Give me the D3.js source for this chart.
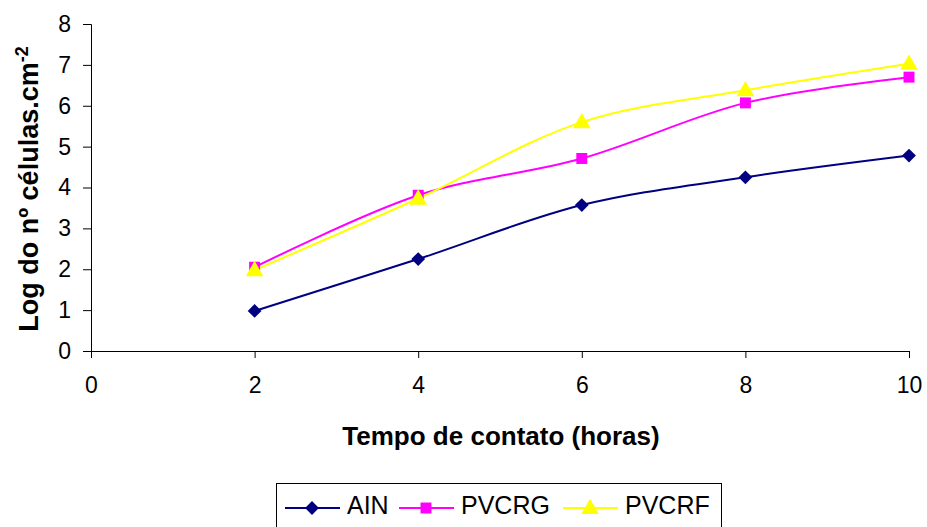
<!DOCTYPE html>
<html>
<head>
<meta charset="utf-8">
<script src="https://cdn.jsdelivr.net/npm/d3@7"></script>
<style>
  html, body { margin: 0; padding: 0; background: #fff; }
  svg { display: block; font-family: "Liberation Sans", Arial, sans-serif; }
</style>
</head>
<body>
<svg id="chart" width="927" height="527"></svg>
<script>
// Contact time (hours)
const hours = [2, 4, 6, 8, 10];
// Log of cell count per cm² for each surface
const ain    = [0.98, 2.25, 3.57, 4.25, 4.78];
const pvcrg  = [2.05, 3.81, 4.71, 6.07, 6.70];
const pvcrf  = [1.98, 3.73, 5.60, 6.38, 7.03];
const xTicks = [0, 2, 4, 6, 8, 10];
const yTicks = [0, 1, 2, 3, 4, 5, 6, 7, 8];

const seriesNames  = ["AIN", "PVCRG", "PVCRF"];
const seriesValues = [ain, pvcrg, pvcrf];
const seriesColors = ["#000080", "#FF00FF", "#FFFF00"];

// Marker shapes: square diamond, square, triangle
const diamondSym = {
  draw(ctx, size) {
    const r = Math.sqrt(size / 2);
    ctx.moveTo(0, -r); ctx.lineTo(r, 0); ctx.lineTo(0, r); ctx.lineTo(-r, 0); ctx.closePath();
  }
};
const seriesShapes = [diamondSym, d3.symbolSquare, d3.symbolTriangle];
const symbolSizes = [95, 120, 135];

const svg = d3.select("#chart");
const plotL = 91, plotR = 909, plotT = 24, plotB = 351;

const x = d3.scaleLinear().domain([0, 10]).range([plotL, plotR]);
const y = d3.scaleLinear().domain([0, 8]).range([plotB, plotT]);

// Axes
const xAxis = d3.axisBottom(x).tickValues(xTicks).tickSize(7).tickPadding(19);
const yAxis = d3.axisLeft(y).tickValues(yTicks).tickSize(8).tickPadding(12);

const gx = svg.append("g").attr("transform", `translate(0,${plotB})`).call(xAxis);
const gy = svg.append("g").attr("transform", `translate(${plotL},0)`).call(yAxis);
[gx, gy].forEach(g => {
  g.select(".domain").attr("stroke", "#000").attr("stroke-width", 1);
  g.selectAll(".tick line").attr("stroke", "#000");
  g.selectAll(".tick text").attr("font-size", 23).attr("fill", "#000")
    .attr("font-family", "'Liberation Sans', Arial, sans-serif");
});

// Axis titles
svg.append("text")
  .attr("x", 501).attr("y", 445)
  .attr("text-anchor", "middle")
  .attr("font-size", 26).attr("font-weight", "bold")
  .text("Tempo de contato (horas)");

const yt = svg.append("text")
  .attr("transform", `translate(38,189) rotate(-90)`)
  .attr("text-anchor", "middle")
  .attr("font-size", 27).attr("font-weight", "bold");
yt.append("tspan").text("Log do nº células.cm");
yt.append("tspan").attr("font-size", 18).attr("dy", -10).text("-2");

// Series lines and markers
const line = d3.line()
  .x((d, i) => x(hours[i]))
  .y(d => y(d))
  .curve(d3.curveCatmullRom.alpha(0.5));

seriesValues.forEach((vals, s) => {
  svg.append("path")
    .datum(vals)
    .attr("fill", "none")
    .attr("stroke", seriesColors[s])
    .attr("stroke-width", 2)
    .attr("d", line);
});

seriesValues.forEach((vals, s) => {
  svg.append("g").selectAll("path")
    .data(vals)
    .join("path")
    .attr("transform", (d, i) => `translate(${x(hours[i])},${y(d) + (s === 2 ? 1 : 0)})`)
    .attr("d", d3.symbol().type(seriesShapes[s]).size(symbolSizes[s]))
    .attr("fill", seriesColors[s]);
});

// Legend
const legend = svg.append("g");
legend.append("rect")
  .attr("x", 276.5).attr("y", 483.5)
  .attr("width", 445).attr("height", 60)
  .attr("fill", "#fff").attr("stroke", "#000").attr("stroke-width", 1);

const legendX = [285, 399, 563];
seriesNames.forEach((name, s) => {
  const g = legend.append("g").attr("transform", `translate(${legendX[s]},508)`);
  g.append("line").attr("x1", 0).attr("x2", 55).attr("y1", 0).attr("y2", 0)
    .attr("stroke", seriesColors[s]).attr("stroke-width", 2);
  g.append("path")
    .attr("transform", `translate(27,${s === 2 ? 1 : 0})`)
    .attr("d", d3.symbol().type(seriesShapes[s]).size(symbolSizes[s]))
    .attr("fill", seriesColors[s]);
  g.append("text").attr("x", 62).attr("y", 6)
    .attr("font-size", 25).attr("fill", "#000").text(name);
});
</script>
</body>
</html>
